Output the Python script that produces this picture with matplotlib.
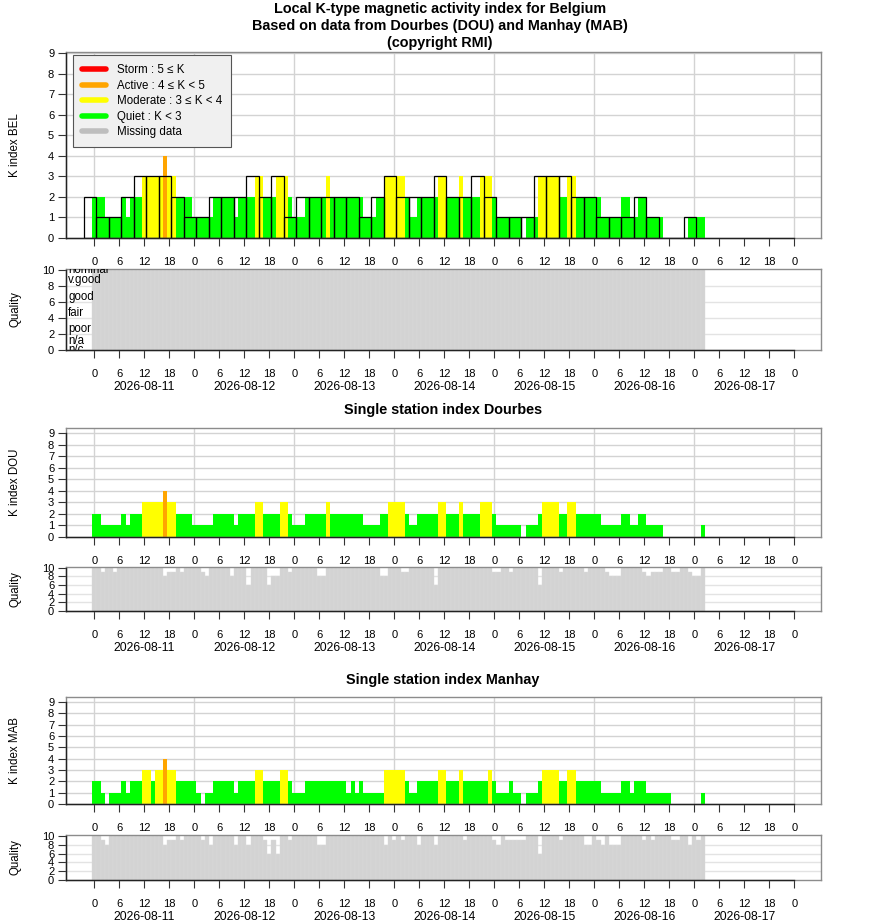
import matplotlib
matplotlib.use("Agg")
import matplotlib.pyplot as plt
from matplotlib.lines import Line2D
import numpy as np

plt.rcParams['font.family'] = ['Liberation Sans', 'DejaVu Sans']

# hourly K values, first value = 2026-08-11 00 UT
bel_k = [2, 2, 2, 1, 1, 1, 1, 2, 1, 2, 2, 2, 3, 3, 3, 3, 3, 4, 3, 3, 2, 2, 2, 2,
         1, 1, 1, 1, 1, 2, 2, 2, 2, 2, 1, 2, 2, 2, 2, 3, 3, 2, 2, 2, 3, 3, 3, 2,
         1, 1, 1, 2, 2, 2, 2, 2, 3, 2, 2, 2, 2, 2, 2, 2, 2, 1, 1, 1, 2, 2, 3, 3,
         3, 3, 3, 2, 1, 1, 2, 2, 2, 2, 2, 3, 3, 2, 2, 2, 3, 2, 2, 2, 2, 3, 3, 3,
         2, 1, 1, 1, 1, 1, 1, 0, 1, 1, 1, 3, 3, 3, 3, 3, 2, 2, 3, 3, 2, 2, 2, 2,
         2, 2, 1, 1, 1, 1, 1, 2, 2, 1, 1, 2, 2, 1, 1, 1, 1, 0, 0, 0, 0, 0, 0, 1,
         1, 1, 1]

dou_k = [2, 2, 1, 1, 1, 1, 1, 2, 1, 2, 2, 2, 3, 3, 3, 3, 3, 4, 3, 3, 2, 2, 2, 2,
         1, 1, 1, 1, 1, 2, 2, 2, 2, 2, 1, 2, 2, 2, 2, 3, 3, 2, 2, 2, 2, 3, 3, 2,
         1, 1, 1, 2, 2, 2, 2, 2, 3, 2, 2, 2, 2, 2, 2, 2, 2, 1, 1, 1, 1, 2, 2, 3,
         3, 3, 3, 2, 1, 1, 2, 2, 2, 2, 2, 3, 3, 2, 2, 2, 3, 2, 2, 2, 2, 3, 3, 3,
         2, 1, 1, 1, 1, 1, 1, 0, 1, 1, 1, 2, 3, 3, 3, 3, 2, 2, 3, 3, 2, 2, 2, 2,
         2, 2, 1, 1, 1, 1, 1, 2, 2, 1, 1, 2, 2, 1, 1, 1, 1, 0, 0, 0, 0, 0, 0, 0,
         0, 0, 1]

mab_k = [2, 2, 1, 0, 1, 1, 1, 2, 1, 2, 2, 2, 3, 3, 2, 3, 3, 4, 3, 3, 2, 2, 2, 2,
         2, 1, 0, 1, 1, 2, 2, 2, 2, 2, 1, 2, 2, 2, 2, 3, 3, 2, 2, 2, 2, 3, 3, 2,
         1, 1, 1, 2, 2, 2, 2, 2, 2, 2, 2, 2, 2, 1, 2, 1, 2, 1, 1, 1, 1, 1, 3, 3,
         3, 3, 3, 2, 1, 1, 2, 2, 2, 2, 2, 3, 3, 2, 2, 2, 3, 2, 2, 2, 2, 2, 2, 3,
         2, 1, 1, 1, 2, 1, 1, 0, 1, 1, 1, 2, 3, 3, 3, 3, 2, 2, 3, 3, 2, 2, 2, 2,
         2, 2, 1, 1, 1, 1, 1, 2, 2, 1, 2, 2, 2, 1, 1, 1, 1, 1, 1, 0, 0, 0, 0, 0,
         0, 0, 1]

# 3-hourly K for Belgium (black outlines), first block ends 2026-08-11 00:30
bel_k3h = [2, 1, 1, 2, 3, 3, 3, 2, 1, 1, 2, 2, 2, 3, 2, 3, 1, 2, 2, 2,
           2, 2, 1, 2, 3, 2, 2, 2, 3, 2, 2, 3, 2, 1, 1, 1, 3, 3, 3,
           2, 2, 1, 1, 1, 2, 1, 0, 0, 1]

bel_quality = [10, 10, 10, 10, 10, 10, 10, 10, 10, 10, 10, 10, 10, 10, 10, 10, 10, 10, 10, 10, 10, 10, 10, 10,
               10, 10, 10, 10, 10, 10, 10, 10, 10, 10, 10, 10, 10, 10, 10, 10, 10, 10, 10, 10, 10, 10, 10, 10,
               10, 10, 10, 10, 10, 10, 10, 10, 10, 10, 10, 10, 10, 10, 10, 10, 10, 10, 10, 10, 10, 10, 10, 10,
               10, 10, 10, 10, 10, 10, 10, 10, 10, 10, 10, 10, 10, 10, 10, 10, 10, 10, 10, 10, 10, 10, 10, 10,
               10, 10, 10, 10, 10, 10, 10, 10, 10, 10, 10, 10, 10, 10, 10, 10, 10, 10, 10, 10, 10, 10, 10, 10,
               10, 10, 10, 10, 10, 10, 10, 10, 10, 10, 10, 10, 10, 10, 10, 10, 10, 10, 10, 10, 10, 10, 10, 10,
               10, 10, 10]

dou_quality = [10, 10, 9, 10, 10, 9, 10, 10, 10, 10, 10, 10, 10, 10, 10, 10, 10, 8, 9, 9, 10, 9, 10, 10,
               10, 10, 9, 8, 10, 10, 10, 10, 10, 8, 10, 10, 10, 6, 10, 10, 10, 10, 6, 8, 8, 10, 10, 9,
               10, 10, 10, 10, 10, 10, 8, 8, 10, 10, 10, 10, 10, 10, 10, 10, 10, 10, 10, 10, 10, 8, 8, 10,
               10, 10, 9, 9, 10, 10, 10, 10, 10, 10, 6, 10, 10, 10, 10, 10, 10, 10, 10, 10, 10, 10, 10, 10,
               9, 9, 10, 10, 9, 10, 10, 10, 10, 10, 10, 6, 10, 10, 10, 10, 9, 10, 10, 10, 10, 10, 9, 10,
               10, 10, 10, 9, 8, 8, 8, 10, 10, 10, 10, 10, 9, 8, 9, 9, 9, 10, 10, 9, 9, 10, 10, 9,
               8, 8, 10]

mab_quality = [10, 10, 9, 8, 10, 10, 10, 10, 10, 10, 10, 10, 10, 10, 10, 10, 10, 8, 9, 9, 10, 9, 10, 10,
               10, 10, 9, 10, 8, 10, 10, 10, 10, 10, 8, 10, 10, 8, 10, 10, 10, 9, 6, 9, 6, 10, 10, 9,
               10, 10, 10, 10, 10, 10, 8, 8, 10, 10, 10, 10, 10, 10, 10, 10, 10, 10, 10, 10, 10, 10, 8, 10,
               9, 10, 9, 10, 10, 10, 8, 10, 10, 10, 8, 10, 10, 10, 10, 10, 10, 9, 10, 10, 10, 10, 10, 10,
               9, 8, 10, 9, 9, 9, 9, 9, 10, 10, 10, 6, 10, 10, 10, 10, 9, 10, 10, 10, 10, 10, 8, 8,
               10, 9, 8, 10, 8, 8, 8, 10, 10, 10, 10, 10, 9, 10, 9, 10, 10, 10, 10, 9, 9, 10, 10, 8,
               10, 9, 10]

day_labels = ['2026-08-11', '2026-08-12', '2026-08-13', '2026-08-14',
              '2026-08-15', '2026-08-16', '2026-08-17']
hour_labels = ['0', '6', '12', '18']

legend_labels = ['Storm : 5 \u2264 K', 'Active : 4 \u2264 K < 5', 'Moderate : 3 \u2264 K < 4',
                 'Quiet : K < 3', 'Missing data']
legend_colours = ['#ff0000', '#ffa500', '#ffff00', '#00ff00', '#bebebe']

quality_names = ['nominal', 'v.good', 'good', 'fair', 'poor', 'n/a', 'n/c']
quality_name_y = [10, 8.7, 6.6, 4.6, 2.6, 1.1, 0.05]

W, H = 880, 924
X0, X1 = -6.8, 174.3
GRID = '#d3d3d3'
QGREY = '#d3d3d3'
TITLE_SIZE = 10.4

hours = np.arange(len(bel_k))
tick_pos = np.arange(0, 169, 6)
tick_text = hour_labels * 7 + ['0']


def k_colour(k):
    if k >= 5:
        return '#ff0000'
    if k >= 4:
        return '#ffa500'
    if k >= 3:
        return '#ffff00'
    return '#00ff00'


fig = plt.figure(figsize=(W / 100, H / 100), dpi=100)


def new_axes(top, bottom):
    return fig.add_axes([66 / W, 1 - bottom / H, (820.5 - 66) / W, (bottom - top) / H])


def style(ax, ymax, ytop, ylab):
    ax.set_xlim(X0, X1)
    ax.set_ylim(0, ymax)
    for s in ax.spines.values():
        s.set_color('#8c8c8c')
        s.set_linewidth(1)
    ax.set_xticks(tick_pos)
    ax.set_xticklabels(tick_text)
    ax.tick_params(axis='both', labelsize=8, length=5.5, width=0.8, color='#333333')
    ax.tick_params(axis='x', pad=8)
    ax.tick_params(axis='y', pad=3)
    ax.set_ylabel(ylab, fontsize=8.3)
    ax.yaxis.set_label_coords(-0.059, 0.5)
    # axis lines drawn in black like R's axis()
    ax.plot([X0, 168], [0, 0], color='#222222', lw=1, clip_on=False, zorder=6)
    ax.plot([X0, X0], [0, ytop], color='#222222', lw=1, clip_on=False, zorder=6)


def k_panel(ax, values, ylab, ymax):
    for k in range(1, 10):
        ax.axhline(k, color=GRID, lw=1, zorder=1)
    for d in range(0, 169, 24):
        ax.axvline(d, color=GRID, lw=1, zorder=1)
    ax.bar(hours, values, width=1.0, color=[k_colour(v) for v in values],
           linewidth=0, zorder=2)
    style(ax, ymax, 9, ylab)
    ax.set_yticks(range(10))


def q_panel(ax, values, ymax):
    for q in range(2, 10, 2):
        ax.axhline(q, color='#e3e3e3', lw=1, zorder=1)
    ax.bar(hours, values, width=1.0, color=QGREY, edgecolor='#dcdcdc',
           linewidth=0.3, zorder=2)
    style(ax, ymax, 10, 'Quality')
    ax.set_yticks(range(0, 11, 2))
    for i, d in enumerate(day_labels):
        ax.annotate(d, xy=(12 + 24 * i, 0), xycoords=('data', 'axes fraction'),
                    xytext=(0, -26.5), textcoords='offset points',
                    ha='center', va='center', fontsize=8.8)


# titles
fig.text(0.5, 1 - 9 / H, 'Local K-type magnetic activity index for Belgium',
         ha='center', va='center', fontsize=TITLE_SIZE, fontweight='bold')
fig.text(0.5, 1 - 26 / H, 'Based on data from Dourbes (DOU) and Manhay (MAB)',
         ha='center', va='center', fontsize=TITLE_SIZE, fontweight='bold')
fig.text(0.5, 1 - 43 / H, '(copyright RMI)',
         ha='center', va='center', fontsize=TITLE_SIZE, fontweight='bold')
fig.text(443 / W, 1 - 410 / H, 'Single station index Dourbes',
         ha='center', va='center', fontsize=TITLE_SIZE, fontweight='bold')
fig.text(443 / W, 1 - 680 / H, 'Single station index Manhay',
         ha='center', va='center', fontsize=TITLE_SIZE, fontweight='bold')

# Belgium K index
ax1 = new_axes(52, 238)
k_panel(ax1, bel_k, 'K index BEL', 9.05)
ax1.bar(np.arange(len(bel_k3h)) * 3 - 1, bel_k3h, width=3.0, fill=False,
        edgecolor='black', linewidth=0.9, zorder=3)
handles = [Line2D([0], [0], color=c, lw=4, solid_capstyle='round') for c in legend_colours]
leg = ax1.legend(handles, legend_labels, loc='upper left',
                 bbox_to_anchor=(0.0093, 0.984), borderaxespad=0, fontsize=8.3,
                 handlelength=2.1, handletextpad=0.9, labelspacing=0.3,
                 borderpad=0.8, fancybox=False, framealpha=1)
leg.get_frame().set_facecolor('#f0f0f0')
leg.get_frame().set_edgecolor('#555555')
leg.get_frame().set_linewidth(0.8)
leg.set_zorder(10)

# Belgium quality
ax2 = new_axes(269, 350)
q_panel(ax2, bel_quality, 10.1)
for name, y in zip(quality_names, quality_name_y):
    ax2.text(X0 + 0.5, y, name, ha='left', va='center', fontsize=8.3, clip_on=True, zorder=4)

# Dourbes
ax3 = new_axes(428, 537)
k_panel(ax3, dou_k, 'K index DOU', 9.45)
ax4 = new_axes(567, 611)
q_panel(ax4, dou_quality, 10.2)

# Manhay
ax5 = new_axes(697, 804)
k_panel(ax5, mab_k, 'K index MAB', 9.45)
ax6 = new_axes(835, 880)
q_panel(ax6, mab_quality, 10.2)

fig.savefig('out.png', dpi=100)
